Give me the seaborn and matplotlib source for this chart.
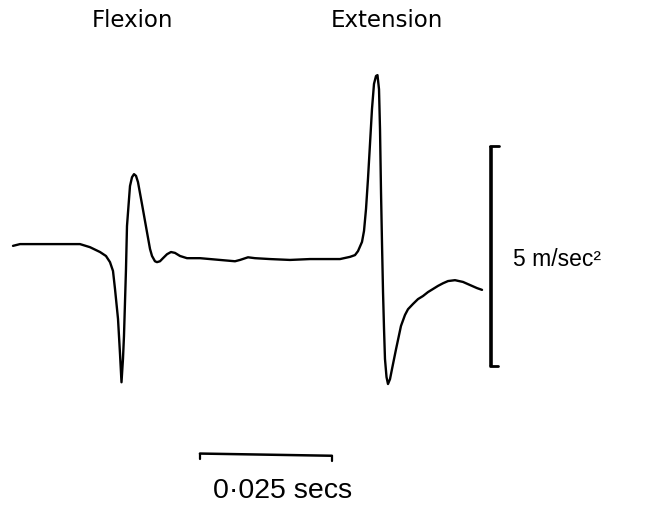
import matplotlib
matplotlib.use("Agg")
import matplotlib.pyplot as plt
import seaborn as sns
import pandas as pd

# Time (ms) and acceleration (m/s^2)
time_ms = [0.0, 1.33, 5.11, 8.90, 12.69, 14.58, 16.48, 17.61, 18.37, 18.94, 19.32,
           19.89, 20.27, 20.55, 20.83, 21.02, 21.40, 21.59, 21.97, 22.16, 22.54,
           22.92, 23.30, 23.67, 24.43, 25.38, 25.95, 26.33, 26.89, 27.27, 27.84,
           28.41, 29.17, 29.92, 30.68, 31.63, 32.95, 35.42, 37.31, 39.20, 42.05,
           43.00, 44.51, 45.83, 48.67, 52.46, 56.25, 60.04, 61.93, 63.83, 64.77,
           65.34, 66.10, 66.48, 66.86, 67.23, 67.61, 67.99, 68.37, 68.75, 69.03,
           69.32, 69.51, 69.70, 69.89, 70.08, 70.27, 70.45, 70.74, 71.02, 71.40,
           71.78, 72.54, 73.48, 74.24, 74.81, 75.76, 76.70, 77.65, 78.60, 79.55,
           80.49, 81.44, 82.39, 83.71, 85.23, 86.17, 86.93, 87.88, 88.83]
accel = [0.30, 0.34, 0.34, 0.34, 0.34, 0.27, 0.16, 0.07, -0.07, -0.27, -0.68,
         -1.36, -2.16, -2.80, -2.27, -1.75, -0.23, 0.75, 1.36, 1.66, 1.86,
         1.93, 1.89, 1.75, 1.25, 0.61, 0.23, 0.07, -0.05, -0.07, -0.05,
         0.02, 0.11, 0.16, 0.14, 0.07, 0.02, 0.02, 0.00, -0.02, -0.05,
         -0.02, 0.04, 0.02, 0.00, -0.02, 0.00, 0.00, 0.00, 0.05, 0.09,
         0.18, 0.39, 0.64, 1.14, 1.82, 2.61, 3.41, 3.98, 4.16, 4.18,
         3.86, 2.95, 1.52, 0.34, -0.75, -1.59, -2.27, -2.68, -2.84, -2.73,
         -2.50, -2.05, -1.52, -1.27, -1.14, -1.02, -0.91, -0.84, -0.75, -0.68,
         -0.61, -0.55, -0.50, -0.48, -0.52, -0.57, -0.61, -0.66, -0.70]

event_labels = ["Flexion", "Extension"]
event_times = [22.7, 70.9]

accel_bar_value = 5.0      # m/s^2
accel_bar_label = "5 m/sec\u00b2"
time_bar_value = 25.0      # ms
time_bar_label = "0\u00b7025 secs"

df = pd.DataFrame({"time": time_ms, "accel": accel})

sns.set_theme(style="white")
plt.rcParams["font.family"] = ["Liberation Sans", "DejaVu Sans"]

fig = plt.figure(figsize=(6.54, 5.10), dpi=100)
ax = fig.add_axes([0, 0, 1, 1])
sns.lineplot(data=df, x="time", y="accel", ax=ax, color="black",
             linewidth=1.7, estimator=None, sort=False)

ax.set_xlim(-2.46, 121.40)
ax.set_ylim(-5.68, 5.91)
ax.set_axis_off()

# Event labels
for lab, t in zip(event_labels, event_times):
    ax.text(t, 5.45, lab, ha="center", va="center", fontsize=16.5,
            family=["DejaVu Sans"], color="black")

# Vertical acceleration scale bar
vx = 90.53
vtop = 2.57
vbot = vtop - accel_bar_value
ax.plot([vx, vx], [vbot, vtop], color="black", linewidth=2.6, solid_capstyle="butt")
ax.plot([vx - 0.1, vx + 1.5], [vtop, vtop], color="black", linewidth=2.0)
ax.plot([vx - 0.1, vx + 1.3], [vbot, vbot], color="black", linewidth=2.0)
ax.text(vx + 4.1, (vtop + vbot) / 2 - 0.06, accel_bar_label, ha="left",
        va="center", fontsize=16.5, color="black")

# Horizontal time scale bar
hx0 = 35.4
hy = -4.42
ax.plot([hx0, hx0 + time_bar_value], [hy, hy - 0.05], color="black", linewidth=1.8)
ax.plot([hx0, hx0], [hy, hy - 0.12], color="black", linewidth=1.6)
ax.plot([hx0 + time_bar_value, hx0 + time_bar_value], [hy - 0.05, hy - 0.17],
        color="black", linewidth=1.6)
ax.text(51.1, -5.25, time_bar_label, ha="center",
        va="center", fontsize=20.5, color="black")

fig.savefig("out.png", dpi=100, facecolor="white")
